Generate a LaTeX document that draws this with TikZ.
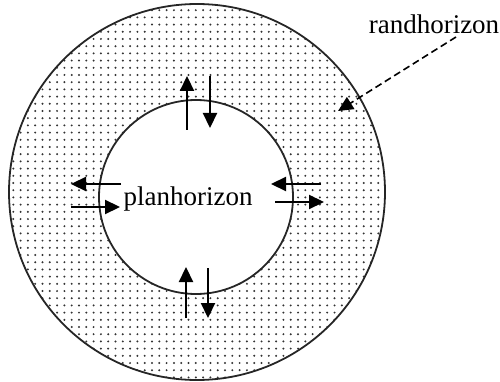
\documentclass[tikz,border=0pt]{standalone}
\usepackage{fontspec}
\setmainfont{Liberation Serif}
\usetikzlibrary{arrows.meta}
\begin{document}
\begin{tikzpicture}[x=1pt,y=-1pt,
  ring/.style={draw=black!85, line width=1.8pt},
  flow/.style={line width=2.2pt, -{Triangle[length=15pt,width=14pt]}},
  lbl/.style={font=\fontsize{27}{30}\selectfont, inner sep=0pt}]
\useasboundingbox (0,0) rectangle (500,382);
% dotted ring drawn dot by dot
\begin{scope}[even odd rule]
  \clip (197,192) circle (188pt) (196,197) circle (97pt);
  \foreach \i in {0,...,53} {
    \foreach \j in {0,...,53} {
      \fill[black!80] (6+7.3*\i, 3+7.2*\j) circle (1.1pt);
    }
  }
\end{scope}
\node[ring, circle, minimum size=376pt, inner sep=0pt] (outer) at (197,192) {};
\node[ring, circle, minimum size=194pt, inner sep=0pt] (inner) at (196,197) {};
\node[lbl] (plan) at (188,199) {planhorizon};
\node[lbl] (rand) at (434,24) {randhorizon};
% top
\coordinate (t1a) at (187,130); \coordinate (t1b) at (187,76);
\coordinate (t2a) at (210,76);  \coordinate (t2b) at (210,128);
% bottom
\coordinate (b1a) at (186,318); \coordinate (b1b) at (186,267);
\coordinate (b2a) at (208,268); \coordinate (b2b) at (208,318);
% left
\coordinate (l1a) at (121,184); \coordinate (l1b) at (71,184);
\coordinate (l2a) at (71,207);  \coordinate (l2b) at (120,207);
% right
\coordinate (r1a) at (321,184); \coordinate (r1b) at (271,184);
\coordinate (r2a) at (275,202); \coordinate (r2b) at (324,202);
\draw[flow] (t1a) -- (t1b);
\draw[flow] (t2a) -- (t2b);
\draw[flow] (b1a) -- (b1b);
\draw[flow] (b2a) -- (b2b);
\draw[flow] (l1a) -- (l1b);
\draw[flow] (l2a) -- (l2b);
\draw[flow] (r1a) -- (r1b);
\draw[flow] (r2a) -- (r2b);
\coordinate (dstart) at (456,37);
\coordinate (dend) at (338,111);
\draw[line width=1.6pt, dash pattern=on 7pt off 4pt, -{Triangle[length=15pt,width=14pt]}] (dstart) -- (dend);
\end{tikzpicture}
\end{document}
